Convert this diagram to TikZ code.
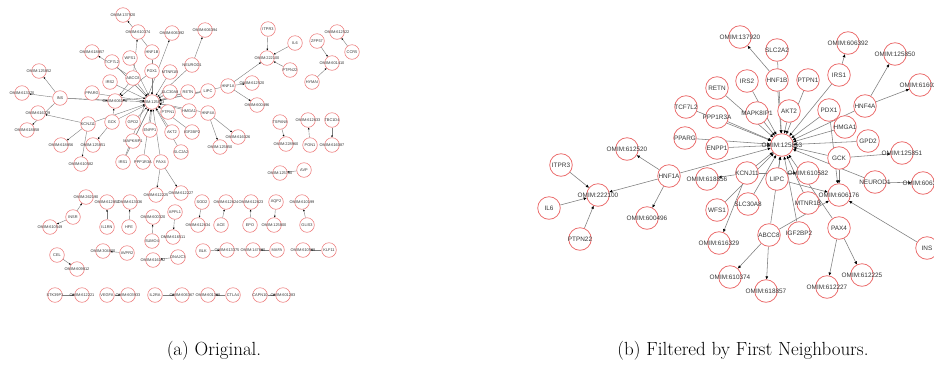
\documentclass[tikz,border=0pt]{standalone}
\usepackage{fontspec}
\newfontfamily\lab{Liberation Sans}
\usetikzlibrary{arrows.meta}
\pgfdeclarelayer{bg}
\pgfsetlayers{bg,main}
\definecolor{nodered}{RGB}{236,112,112}
\definecolor{edgegray}{RGB}{125,125,125}
\definecolor{txt}{RGB}{55,55,55}
\newcommand\zb[1]{\hbox to 0pt{\hss #1\hss}}
\tikzset{
 rn/.style={circle,draw=nodered,fill=white,line width=0.8pt,minimum size=22.6pt,inner sep=0pt,font=\lab\fontsize{6.4}{6.4}\selectfont,text=txt},
 ln/.style={circle,draw=nodered,fill=white,line width=0.5pt,minimum size=14.6pt,inner sep=0pt,font=\lab\fontsize{3.9}{4}\selectfont,text=txt},
 re/.style={draw=edgegray,line width=0.55pt,-{Triangle[length=3pt,width=2.6pt,color=black]}},
 le/.style={draw=edgegray,line width=0.4pt,-{Triangle[length=1.8pt,width=1.6pt,color=black]}},
 capstyle/.style={font=\fontsize{19}{22}\selectfont,text=black}
}
\newcommand\RN[3]{\node[rn] (#1) at (#2) {\zb{#3}};}
\newcommand\LN[3]{\node[ln] (#1) at (#2) {\zb{#3}};}
\begin{document}
\begin{tikzpicture}[x=1pt,y=-1pt]
\useasboundingbox (0,0) rectangle (934,365);
\begin{pgfonlayer}{bg}
\fill[white] (0,0) rectangle (934,365);
\end{pgfonlayer}
\clip (0,0) rectangle (934,365);
% ---------------- right graph ----------------
\RN{rC}{782,145}{OMIM:125853}
\RN{rO137920}{740,37}{OMIM:137920}
\RN{rSLC2A2}{777,50}{SLC2A2}
\RN{rHNF1B}{777,80}{HNF1B}
\RN{rO606392}{848,43}{OMIM:606392}
\RN{rO125850}{895,54}{OMIM:125850}
\RN{rIRS1}{839,75}{IRS1}
\RN{rPTPN1}{808,80}{PTPN1}
\RN{rO616026}{920,85}{OMIM:616026}
\RN{rHNF4A}{865,106}{HNF4A}
\RN{rAKT2}{789,111}{AKT2}
\RN{rPDX1}{829,110}{PDX1}
\RN{rHMGA1}{845,127}{HMGA1}
\RN{rGPD2}{868,141}{GPD2}
\RN{rRETN}{717,88}{RETN}
\RN{rIRS2}{747,81}{IRS2}
\RN{rTCF7L2}{686,107}{TCF7L2}
\RN{rPPP1R3A}{717,117}{PPP1R3A}
\RN{rMAPK8IP1}{757,113}{MAPK8IP1}
\RN{rPPARG}{685,138}{PPARG}
\RN{rENPP1}{717,148}{ENPP1}
\RN{rO125851}{902,153}{OMIM:125851}
\RN{rGCK}{839,158}{GCK}
\RN{rNEUROD1}{875,182}{NEUROD1}
\RN{rO606394}{923,183}{OMIM:606394}
\RN{rLIPC}{777,179}{LIPC}
\RN{rO610582}{808,173}{OMIM:610582}
\RN{rO606176}{839,195}{OMIM:606176}
\RN{rMTNR1B}{808,203}{MTNR1B}
\RN{rPAX4}{839,228}{PAX4}
\RN{rINS}{927,248}{INS}
\RN{rIGF2BP2}{799,233}{IGF2BP2}
\RN{rABCC8}{769,235}{ABCC8}
\RN{rO612225}{862,275}{OMIM:612225}
\RN{rO612227}{827,287}{OMIM:612227}
\RN{rO618857}{766,291}{OMIM:618857}
\RN{rO612520}{627,149}{OMIM:612520}
\RN{rHNF1A}{669,176}{HNF1A}
\RN{rO618856}{707,179}{OMIM:618856}
\RN{rKCNJ11}{747,173}{KCNJ11}
\RN{rWFS1}{717,210}{WFS1}
\RN{rSLC30A8}{748,204}{SLC30A8}
\RN{rO600496}{647,218}{OMIM:600496}
\RN{rO616329}{719,243}{OMIM:616329}
\RN{rO610374}{730,277}{OMIM:610374}
\RN{rITPR3}{561,165}{ITPR3}
\RN{rO222100}{598,195}{OMIM:222100}
\RN{rIL6}{549,208}{IL6}
\RN{rPTPN22}{580,239}{PTPN22}
% ---------------- left graph ----------------
\LN{lC}{152,102}{OMIM:125853}
\LN{lO137920}{123,15}{OMIM:137920}
\LN{lO610374}{138,32}{OMIM:610374}
\LN{lHNF1B}{152,52}{HNF1B}
\LN{lWFS1}{130,58}{WFS1}
\LN{lO618857}{92,52}{OMIM:618857}
\LN{lTCF7L2}{112,62}{TCF7L2}
\LN{lPDX1}{152,71}{PDX1}
\LN{lABCC8}{133,78}{ABCC8}
\LN{lIRS2}{110,82}{IRS2}
\LN{lO125852}{39,71}{OMIM:125852}
\LN{lINS}{60,98}{INS}
\LN{lO613370}{22,93}{OMIM:613370}
\LN{lPPARG}{92,93}{PPARG}
\LN{lO606176}{115,101}{OMIM:606176}
\LN{lO616329}{38,113}{OMIM:616329}
\LN{lKCNJ11}{88,124}{KCNJ11}
\LN{lGCK}{112,122}{GCK}
\LN{lGPD2}{133,122}{GPD2}
\LN{lENPP1}{150,130}{ENPP1}
\LN{lO618858}{27,130}{OMIM:618858}
\LN{lO618856}{61,145}{OMIM:618856}
\LN{lO125851}{93,145}{OMIM:125851}
\LN{lMAPK8IP1}{133,141}{MAPK8IP1}
\LN{lO610582}{81,164}{OMIM:610582}
\LN{lIRS1}{123,162}{IRS1}
\LN{lPPP1R3A}{143,162}{PPP1R3A}
\LN{lPAX4}{161,162}{PAX4}
\LN{lO612225}{156,195}{OMIM:612225}
\LN{lO612227}{181,193}{OMIM:612227}
\LN{lSLC2A2}{181,152}{SLC2A2}
\LN{lO606392}{172,33}{OMIM:606392}
\LN{lO606394}{205,30}{OMIM:606394}
\LN{lMTNR1B}{170,72}{MTNR1B}
\LN{lNEUROD1}{192,65}{NEUROD1}
\LN{lSLC30A8}{170,92}{SLC30A8}
\LN{lRETN}{188,92}{RETN}
\LN{lLIPC}{208,91}{LIPC}
\LN{lHNF1A}{228,86}{HNF1A}
\LN{lO612520}{252,83}{OMIM:612520}
\LN{lO600496}{257,105}{OMIM:600496}
\LN{lO222100}{267,58}{OMIM:222100}
\LN{lITPR3}{268,29}{ITPR3}
\LN{lIL6}{295,43}{IL6}
\LN{lPTPN22}{290,70}{PTPN22}
\LN{lPTPN1}{168,112}{PTPN1}
\LN{lHMGA1}{189,111}{HMGA1}
\LN{lHNF4A}{208,113}{HNF4A}
\LN{lAKT2}{172,132}{AKT2}
\LN{lIGF2BP2}{192,132}{IGF2BP2}
\LN{lO616026}{238,137}{OMIM:616026}
\LN{lO125850}{220,147}{OMIM:125850}
\LN{lTSPAN8}{280,122}{TSPAN8}
\LN{lO228960}{286,144}{OMIM:228960}
\LN{lO612522}{337,32}{OMIM:612522}
\LN{lCCR5}{352,52}{CCR5}
\LN{lZFP57}{317,41}{ZFP57}
\LN{lO601410}{332,63}{OMIM:601410}
\LN{lHYMAI}{312,82}{HYMAI}
\LN{lO612633}{308,120}{OMIM:612633}
\LN{lTBC1D4}{332,120}{TBC1D4}
\LN{lPON1}{310,145}{PON1}
\LN{lO616087}{332,145}{OMIM:616087}
\LN{lAVP}{304,170}{AVP}
\LN{lO125700}{280,173}{OMIM:125700}
\LN{lO262190}{86,197}{OMIM:262190}
\LN{lINSR}{73,217}{INSR}
\LN{lO610549}{50,227}{OMIM:610549}
\LN{lO612852}{107,202}{OMIM:612852}
\LN{lIL1RN}{107,227}{IL1RN}
\LN{lO613036}{130,202}{OMIM:613036}
\LN{lHFE}{129,227}{HFE}
\LN{lO600320}{153,217}{OMIM:600320}
\LN{lSUMO4}{152,241}{SUMO4}
\LN{lO304800}{103,251}{OMIM:304800}
\LN{lAVPR2}{127,253}{AVPR2}
\LN{lO616192}{153,260}{OMIM:616192}
\LN{lDNAJC3}{178,257}{DNAJC3}
\LN{lCEL}{57,255}{CEL}
\LN{lO609812}{77,269}{OMIM:609812}
\LN{lAPPL1}{175,212}{APPL1}
\LN{lO616511}{173,237}{OMIM:616511}
\LN{lSOD2}{202,202}{SOD2}
\LN{lO612634}{198,225}{OMIM:612634}
\LN{lO612624}{226,202}{OMIM:612624}
\LN{lACE}{221,225}{ACE}
\LN{lO612623}{251,202}{OMIM:612623}
\LN{lEPO}{250,225}{EPO}
\LN{lAQP2}{276,202}{AQP2}
\LN{lO125800}{274,225}{OMIM:125800}
\LN{lO610199}{302,202}{OMIM:610199}
\LN{lGLIS3}{307,225}{GLIS3}
\LN{lBLK}{203,251}{BLK}
\LN{lO613375}{227,250}{OMIM:613375}
\LN{lO147630}{253,250}{OMIM:147630}
\LN{lMAFA}{277,250}{MAFA}
\LN{lO610508}{303,250}{OMIM:610508}
\LN{lKLF11}{329,250}{KLF11}
\LN{lSTK39}{55,295}{STK39P1}
\LN{lO612221}{82,295}{OMIM:612221}
\LN{lVEGFA}{107,295}{VEGFA}
\LN{lO603933}{128,295}{OMIM:603933}
\LN{lIL2RA}{155,295}{IL2RA}
\LN{lO606367}{182,295}{OMIM:606367}
\LN{lO601388}{208,295}{OMIM:601388}
\LN{lCTLA4}{233,295}{CTLA4}
\LN{lCAPN10}{260,295}{CAPN10}
\LN{lO601283}{283,295}{OMIM:601283}
% ---------------- edges ----------------
\begin{pgfonlayer}{bg}
\foreach \s in {SLC2A2,HNF1B,RETN,IRS2,TCF7L2,PPP1R3A,MAPK8IP1,PPARG,ENPP1,AKT2,PTPN1,IRS1,PDX1,HNF4A,HMGA1,GPD2,GCK,NEUROD1,LIPC,KCNJ11,SLC30A8,WFS1,MTNR1B,IGF2BP2,ABCC8,PAX4,HNF1A}
  {\draw[re] (r\s) -- (rC); \draw[le] (l\s) -- (lC);}
\draw[le] (lINS) -- (lC);
\foreach \a/\b in {HNF1B/O137920,IRS1/O606392,HNF4A/O125850,HNF4A/O616026,GCK/O125851,GCK/O606176,PDX1/O606176,NEUROD1/O606394,KCNJ11/O618856,KCNJ11/O616329,KCNJ11/O610582,LIPC/O606176,ABCC8/O610374,ABCC8/O618857,ABCC8/O606176,PAX4/O612225,PAX4/O612227,HNF1A/O612520,HNF1A/O600496,HNF1A/O222100,ITPR3/O222100,IL6/O222100,PTPN22/O222100,INS/O606176}
  {\draw[re] (r\a) -- (r\b); \draw[le] (l\a) -- (l\b);}
\foreach \a/\b in {INS/O125852,INS/O613370,INS/O618858,TSPAN8/O228960,CCR5/O612522,ZFP57/O601410,HYMAI/O601410,PON1/O612633,TBC1D4/O616087,AVP/O125700,INSR/O262190,INSR/O610549,IL1RN/O612852,HFE/O613036,SUMO4/O600320,AVPR2/O304800,DNAJC3/O616192,CEL/O609812,APPL1/O616511,SOD2/O612634,ACE/O612624,EPO/O612623,AQP2/O125800,GLIS3/O610199,BLK/O613375,MAFA/O147630,KLF11/O610508,STK39/O612221,VEGFA/O603933,IL2RA/O606367,CTLA4/O601388,CAPN10/O601283}
  {\draw[le] (l\a) -- (l\b);}
\end{pgfonlayer}
% ---------------- captions ----------------
\node[capstyle] (capa) at (214,351) {(a) Original.};
\node[capstyle] (capb) at (743,351) {(b) Filtered by First Neighbours.};
\end{tikzpicture}
\end{document}
